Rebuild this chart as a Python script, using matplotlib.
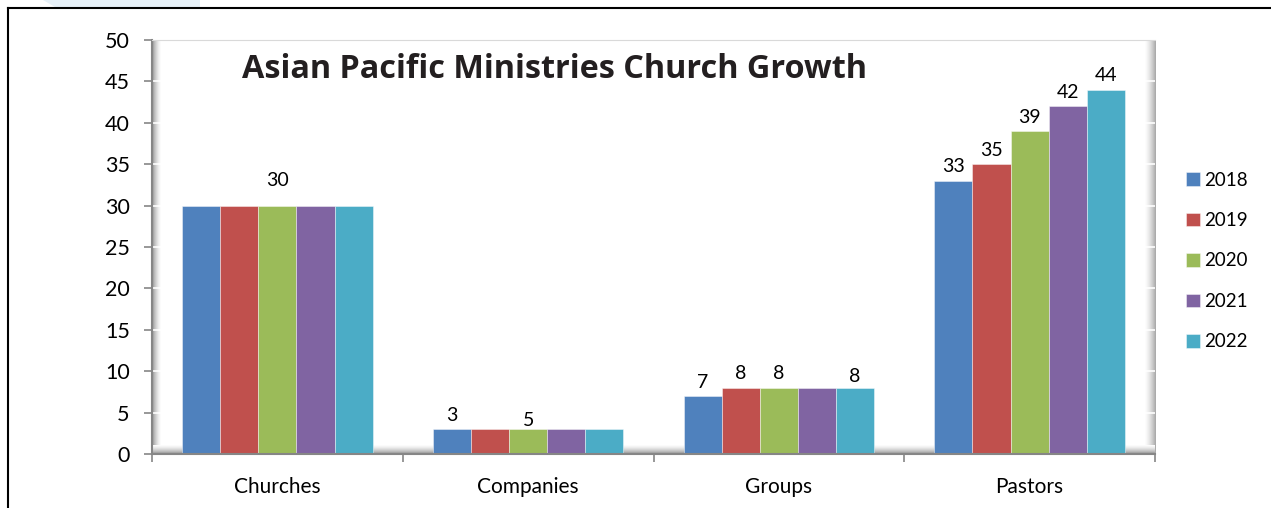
import numpy as np
import matplotlib.pyplot as plt
from matplotlib.lines import Line2D
from matplotlib.patches import Polygon

# ministry counts per year
categories = ['Churches', 'Companies', 'Groups', 'Pastors']
years = ['2018', '2019', '2020', '2021', '2022']
counts_2018 = [30, 3, 7, 33]
counts_2019 = [30, 3, 8, 35]
counts_2020 = [30, 3, 8, 39]
counts_2021 = [30, 3, 8, 42]
counts_2022 = [30, 3, 8, 44]
series = [counts_2018, counts_2019, counts_2020, counts_2021, counts_2022]

# data labels as printed on the chart (None = no label)
# note: the Companies 2020 label reads "5" although its bar stands at 3
labels_2018 = [None, '3', '7', '33']
labels_2019 = [None, None, '8', '35']
labels_2020 = ['30', '5', '8', '39']
labels_2021 = [None, None, None, '42']
labels_2022 = [None, None, '8', '44']
point_labels = [labels_2018, labels_2019, labels_2020, labels_2021, labels_2022]

colors = ['#4F81BD', '#C0504D', '#9BBB59', '#8064A2', '#4BACC6']
axis_grey = '#868686'

plt.rcParams['font.family'] = ['Lato', 'DejaVu Sans']

fig = plt.figure(figsize=(12.71, 5.08), dpi=100)
ax = fig.add_axes([152 / 1271, 54 / 508, 1003 / 1271, 414 / 508])

ax.set_xlim(0, 4)
ax.set_ylim(0, 50)

# wall shading: left side wall, floor, right side wall
grad = np.linspace(0, 1, 64)
ax.imshow(grad[None, :], cmap='Greys_r', vmin=-0.9, vmax=1, aspect='auto',
          extent=(0, 0.035, 0, 50), zorder=0.5, interpolation='bicubic')
ax.imshow(grad[:, None], cmap='Greys_r', vmin=-0.9, vmax=1, aspect='auto',
          extent=(0, 4, 0, 1.0), origin='lower', zorder=0.6, interpolation='bicubic')
ax.imshow(grad[None, ::-1], cmap='Greys_r', vmin=-1.2, vmax=1, aspect='auto',
          extent=(3.96, 4.0, 0, 50), zorder=0.5, interpolation='bicubic')

# white grid stubs on the side walls
for v in range(5, 51, 5):
    ax.plot([0, 0.035], [v, v], color='white', lw=1.2, zorder=0.7)
    ax.plot([3.96, 4.0], [v, v], color='white', lw=1.2, zorder=0.7)

bar_w = 0.152
centers = np.arange(len(categories)) + 0.5
label_dy = {(0, 2): 25, (1, 2): 9, (2, 4): 11}
for i, (vals, labs) in enumerate(zip(series, point_labels)):
    xs = centers + (i - 2) * bar_w
    ax.bar(xs, vals, width=bar_w, color=colors[i], edgecolor=(1, 1, 1, 0.5),
           linewidth=0.6, label=years[i], zorder=2)
    for j, (x, v, t) in enumerate(zip(xs, vals, labs)):
        if t is None:
            continue
        ax.annotate(t, (x, v), xytext=(0, label_dy.get((j, i), 14)),
                    textcoords='offset pixels', ha='center', va='center',
                    fontsize=14, color='black', zorder=3)

for side in ['left', 'bottom']:
    ax.spines[side].set_color(axis_grey)
    ax.spines[side].set_linewidth(1.5)
ax.spines['right'].set_visible(False)
ax.spines['top'].set_color('#D9D9D9')
ax.spines['top'].set_linewidth(0.8)

ax.set_yticks(range(0, 51, 5))
ax.tick_params(axis='y', direction='out', length=6, width=1.2, color=axis_grey,
               labelsize=15.5, pad=10)
ax.set_xticks(centers)
ax.set_xticklabels(categories)
ax.tick_params(axis='x', length=0, labelsize=15, pad=16.5)
ax.set_xticks(range(0, 5), minor=True)
ax.tick_params(axis='x', which='minor', direction='out', length=6, width=1.2,
               color=axis_grey)

ax.legend(loc='center left', bbox_to_anchor=(1169 / 1271, 1 - 261 / 508),
          bbox_transform=fig.transFigure, frameon=False, fontsize=13.5,
          handlelength=0.75, handleheight=0.75, handletextpad=0.2,
          labelspacing=1.25)

fig.text(242 / 1271, 1 - 69 / 508, 'Asian Pacific Ministries Church Growth',
         fontsize=23.3, fontweight='bold', color='#231F20', ha='left', va='center',
         family=['Open Sans', 'DejaVu Sans'])

# outer frame and background shape
fig.add_artist(Line2D([8 / 1271, 1], [1 - 8 / 508, 1 - 8 / 508],
                      color='black', lw=1.5, transform=fig.transFigure))
fig.add_artist(Line2D([8 / 1271, 8 / 1271], [0, 1 - 8 / 508],
                      color='black', lw=1.5, transform=fig.transFigure))
fig.add_artist(Polygon([(43 / 1271, 1), (200 / 1271, 1), (200 / 1271, 1 - 7 / 508),
                        (55 / 1271, 1 - 7 / 508)], closed=True,
                       facecolor='#E6F0F7', edgecolor='none',
                       transform=fig.transFigure))

fig.savefig('out.png', dpi=100)
